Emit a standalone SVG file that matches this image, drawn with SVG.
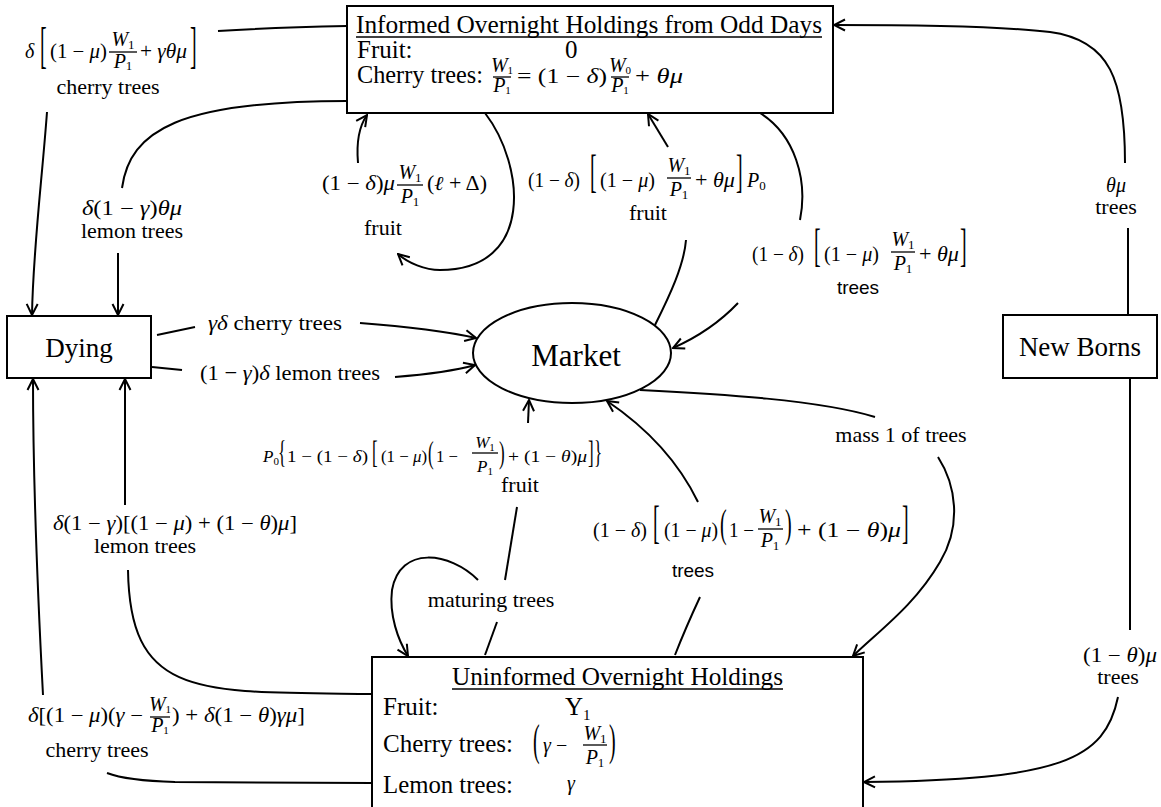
<svg xmlns="http://www.w3.org/2000/svg" width="1161" height="807" viewBox="0 0 1161 807">
<defs>
<style>
.n{fill:#fff;stroke:#000;stroke-width:2}
.c{fill:none;stroke:#000;stroke-width:2}
.a{marker-end:url(#arr)}
.fb{stroke:#000;stroke-width:1.3}
.ul{stroke:#000;stroke-width:1.5}
.t{font-family:"Liberation Serif","Times New Roman",serif;fill:#000}
.m{font-family:"Liberation Serif","Times New Roman",serif;font-size:20px;fill:#000}
.m17{font-family:"Liberation Serif","Times New Roman",serif;font-size:17px;fill:#000}
.i{font-style:italic}
.sub{font-size:13px;font-style:normal}
.sub11{font-size:11px;font-style:normal}
.lb{font-family:"Liberation Serif","Times New Roman",serif;font-size:22px;text-anchor:middle;fill:#000}
.sn{font-family:"Liberation Sans",Arial,sans-serif;font-size:19px;text-anchor:middle;fill:#000}
.mid{text-anchor:middle}
</style>
<marker id="arr" viewBox="0 0 14 14" refX="13" refY="7" markerWidth="14" markerHeight="14" markerUnits="userSpaceOnUse" orient="auto">
<path d="M2,1.5 L13,7 L2,12.5" fill="none" stroke="#000" stroke-width="2"/>
</marker>
</defs>
<rect width="1161" height="807" fill="#fff"/>

<g id="connectors">
<path class="c" d="M347,26 C300,27 250,29 218,31"/>
<path class="c a" d="M47,112 C42,180 33,250 32,315"/>
<path class="c" d="M347,101 C180,101 130,130 122,188"/>
<path class="c a" d="M118,253 L118,315"/>
<path class="c a" d="M485,113 C525,165 535,270 440,270 C425,270 408,263 398,254"/>
<path class="c a" d="M358,163 C356,140 360,125 367,115"/>
<path class="c" d="M655,325 C670,295 684,265 686,240"/>
<path class="c a" d="M668,147 L648,114"/>
<path class="c" d="M760,113 C795,135 808,180 800,220"/>
<path class="c a" d="M738,303 C720,322 700,336 673,348"/>
<path class="c" d="M157,335 L195,327"/>
<path class="c a" d="M360,323 C400,326 440,330 476,338"/>
<path class="c" d="M152,367 L182,370"/>
<path class="c a" d="M395,377 C420,375 450,372 475,365"/>
<path class="c" d="M485,655 L497,622"/>
<path class="c" d="M505,580 L517,507"/>
<path class="c a" d="M528,423 L529,400"/>
<path class="c a" d="M478,580 C450,552 400,545 392,590 C389,615 398,640 408,656"/>
<path class="c" d="M675,655 C684,632 693,612 700,597"/>
<path class="c a" d="M698,502 C680,465 650,430 607,401"/>
<path class="c" d="M640,390 C720,394 820,400 875,417"/>
<path class="c a" d="M938,457 C956,485 962,525 940,562 C915,605 880,630 853,656"/>
<path class="c" d="M1128,315 L1128,228"/>
<path class="c a" d="M1125,163 C1125,80 1110,40 1050,32 C1000,26 900,25 834,25"/>
<path class="c" d="M1130,378 L1130,630"/>
<path class="c a" d="M1118,697 C1105,760 1060,780 864,782"/>
<path class="c" d="M372,694 C200,692 130,700 128,570"/>
<path class="c a" d="M125,505 L125,379"/>
<path class="c" d="M372,783 L175,782 C140,781 120,778 107,773"/>
<path class="c a" d="M43,695 C38,600 33,480 33,379"/>
</g>

<g id="node-informed">
<rect class="n" x="347" y="6" width="486" height="107"/>
<text class="t" x="356" y="33" font-size="25" textLength="466" lengthAdjust="spacingAndGlyphs">Informed Overnight Holdings from Odd Days</text>
<line class="ul" x1="356" y1="37" x2="822" y2="37"/>
<text class="t" x="357" y="58" font-size="25">Fruit:</text>
<text class="t" x="565" y="58" font-size="25">0</text>
<text class="t" x="357" y="83" font-size="25" textLength="126" lengthAdjust="spacingAndGlyphs">Cherry trees:</text>
<text class="m i mid" x="502" y="72" font-size="13">W<tspan class="sub11" dy="2">1</tspan></text>
<line class="fb" x1="493" y1="77" x2="511" y2="77"/>
<text class="m i mid" x="502" y="92" font-size="13">P<tspan class="sub11" dy="2">1</tspan></text>
<text class="m" x="517" y="83" textLength="90" lengthAdjust="spacingAndGlyphs">= (1 − <tspan class="i">δ</tspan>)</text>
<text class="m i mid" x="620" y="72" font-size="13">W<tspan class="sub11" dy="2">0</tspan></text>
<line class="fb" x1="611" y1="77" x2="629" y2="77"/>
<text class="m i mid" x="620" y="92" font-size="13">P<tspan class="sub11" dy="2">1</tspan></text>
<text class="m" x="635" y="83" textLength="48" lengthAdjust="spacingAndGlyphs">+ <tspan class="i">θμ</tspan></text>
</g>

<g id="node-dying">
<rect class="n" x="7" y="316" width="144" height="62"/>
<text class="t mid" x="79" y="357" font-size="27">Dying</text>
</g>

<g id="node-market">
<ellipse class="n" cx="572" cy="353" rx="99" ry="50"/>
<text class="t mid" x="576" y="366" font-size="31">Market</text>
</g>

<g id="node-newborns">
<rect class="n" x="1003" y="315" width="154" height="63"/>
<text class="t mid" x="1080" y="356" font-size="27">New Borns</text>
</g>

<g id="node-uninformed">
<rect class="n" x="372" y="657" width="491" height="165"/>
<text class="t" x="452" y="685" font-size="25" textLength="331" lengthAdjust="spacingAndGlyphs">Uninformed Overnight Holdings</text>
<line class="ul" x1="452" y1="689" x2="783" y2="689"/>
<text class="t" x="383" y="715" font-size="25">Fruit:</text>
<text class="t" x="565" y="715" font-size="25">Y<tspan font-size="15" dy="5">1</tspan></text>
<text class="t" x="383" y="752" font-size="25" textLength="130" lengthAdjust="spacingAndGlyphs">Cherry trees:</text>
<text class="m" transform="matrix(1 0 0 2.2 533 755)">(</text>
<text class="m i" x="543" y="752">γ</text>
<text class="m" x="556" y="752">−</text>
<text class="m i mid" x="595" y="740">W<tspan class="sub" dy="3">1</tspan></text>
<line class="fb" x1="583" y1="745" x2="607" y2="745"/>
<text class="m i mid" x="595" y="764">P<tspan class="sub" dy="3">1</tspan></text>
<text class="m" transform="matrix(1 0 0 2.2 609 755)">)</text>
<text class="t" x="383" y="793" font-size="25" textLength="130" lengthAdjust="spacingAndGlyphs">Lemon trees:</text>
<text class="m i" x="567" y="790" font-size="22">γ</text>
</g>

<g id="edge-labels">
<g id="lbl-informed-dying-cherry">
<text class="m i" x="25" y="58">δ</text>
<text class="m" transform="matrix(1 0 0 2.5 40 62)">[</text>
<text class="m" x="50" y="58" textLength="57" lengthAdjust="spacingAndGlyphs">(1 − <tspan class="i">μ</tspan>)</text>
<text class="m i mid" x="123" y="46">W<tspan class="sub" dy="3">1</tspan></text>
<line class="fb" x1="109" y1="52" x2="137" y2="52"/>
<text class="m i mid" x="123" y="68">P<tspan class="sub" dy="2">1</tspan></text>
<text class="m" x="140" y="58" textLength="47" lengthAdjust="spacingAndGlyphs">+ <tspan class="i">γθμ</tspan></text>
<text class="m" transform="matrix(1 0 0 2.5 190 62)">]</text>
<text class="lb" x="108" y="94">cherry trees</text>
</g>
<g id="lbl-informed-dying-lemon">
<text class="m" x="82" y="215" textLength="100" lengthAdjust="spacingAndGlyphs"><tspan class="i">δ</tspan>(1 − <tspan class="i">γ</tspan>)<tspan class="i">θμ</tspan></text>
<text class="lb" x="132" y="238">lemon trees</text>
</g>
<g id="lbl-informed-loop-fruit">
<text class="m" x="322" y="190" textLength="73" lengthAdjust="spacingAndGlyphs">(1 − <tspan class="i">δ</tspan>)<tspan class="i">μ</tspan></text>
<text class="m i mid" x="410" y="179">W<tspan class="sub" dy="3">1</tspan></text>
<line class="fb" x1="397" y1="185" x2="423" y2="185"/>
<text class="m i mid" x="410" y="203">P<tspan class="sub" dy="3">1</tspan></text>
<text class="m" x="427" y="190" textLength="60" lengthAdjust="spacingAndGlyphs">(<tspan class="i">ℓ</tspan> + Δ)</text>
<text class="lb" x="383" y="235">fruit</text>
</g>
<g id="lbl-market-informed-fruit">
<text class="m" x="528" y="187" textLength="52" lengthAdjust="spacingAndGlyphs">(1 − <tspan class="i">δ</tspan>)</text>
<text class="m" transform="matrix(1 0 0 2.33 590 187)">[</text>
<text class="m" x="600" y="187" textLength="55" lengthAdjust="spacingAndGlyphs">(1 − <tspan class="i">μ</tspan>)</text>
<text class="m i mid" x="679" y="172">W<tspan class="sub" dy="3">1</tspan></text>
<line class="fb" x1="667" y1="178" x2="691" y2="178"/>
<text class="m i mid" x="679" y="196">P<tspan class="sub" dy="3">1</tspan></text>
<text class="m" x="695" y="187" textLength="40" lengthAdjust="spacingAndGlyphs">+ <tspan class="i">θμ</tspan></text>
<text class="m" transform="matrix(1 0 0 2.33 736 187)">]</text>
<text class="m i" x="747" y="187">P<tspan class="sub" dy="3">0</tspan></text>
<text class="lb" x="648" y="220">fruit</text>
</g>
<g id="lbl-informed-market-trees">
<text class="m" x="752" y="261" textLength="52" lengthAdjust="spacingAndGlyphs">(1 − <tspan class="i">δ</tspan>)</text>
<text class="m" transform="matrix(1 0 0 2.33 814 261)">[</text>
<text class="m" x="824" y="261" textLength="55" lengthAdjust="spacingAndGlyphs">(1 − <tspan class="i">μ</tspan>)</text>
<text class="m i mid" x="903" y="246">W<tspan class="sub" dy="3">1</tspan></text>
<line class="fb" x1="891" y1="252" x2="915" y2="252"/>
<text class="m i mid" x="903" y="270">P<tspan class="sub" dy="3">1</tspan></text>
<text class="m" x="919" y="261" textLength="40" lengthAdjust="spacingAndGlyphs">+ <tspan class="i">θμ</tspan></text>
<text class="m" transform="matrix(1 0 0 2.33 960 261)">]</text>
<text class="sn" x="858" y="294">trees</text>
</g>
<g id="lbl-dying-market-cherry">
<text class="t" x="208" y="330" font-size="22" textLength="134" lengthAdjust="spacingAndGlyphs"><tspan class="i">γδ</tspan> cherry trees</text>
</g>
<g id="lbl-dying-market-lemon">
<text class="t" x="200" y="380" font-size="22" textLength="180" lengthAdjust="spacingAndGlyphs">(1 − <tspan class="i">γ</tspan>)<tspan class="i">δ</tspan> lemon trees</text>
</g>
<g id="lbl-uninformed-market-fruit">
<text class="m17 i" x="263" y="462">P<tspan class="sub11" dy="3">0</tspan></text>
<text class="m17" transform="matrix(1 0 0 1.9 278 463)">{</text>
<text class="m17" x="287" y="462" textLength="81" lengthAdjust="spacingAndGlyphs">1 − (1 − <tspan class="i">δ</tspan>)</text>
<text class="m17" transform="matrix(1 0 0 1.9 372 463)">[</text>
<text class="m17" x="381" y="462" textLength="46" lengthAdjust="spacingAndGlyphs">(1 − <tspan class="i">μ</tspan>)</text>
<text class="m17" transform="matrix(1 0 0 1.9 428 463)">(</text>
<text class="m17" x="436" y="462" textLength="22" lengthAdjust="spacingAndGlyphs">1 −</text>
<text class="m17 i mid" x="485" y="448">W<tspan class="sub11" dy="3">1</tspan></text>
<line class="fb" x1="472" y1="453" x2="498" y2="453"/>
<text class="m17 i mid" x="485" y="472">P<tspan class="sub11" dy="3">1</tspan></text>
<text class="m17" transform="matrix(1 0 0 1.9 499 463)">)</text>
<text class="m17" x="508" y="462" textLength="79" lengthAdjust="spacingAndGlyphs">+ (1 − <tspan class="i">θ</tspan>)<tspan class="i">μ</tspan></text>
<text class="m17" transform="matrix(1 0 0 1.9 588 463)">]</text>
<text class="m17" transform="matrix(1 0 0 1.9 594 463)">}</text>
<text class="lb" x="520" y="492">fruit</text>
</g>
<g id="lbl-uninformed-dying-lemon">
<text class="m" x="53" y="530" textLength="244" lengthAdjust="spacingAndGlyphs"><tspan class="i">δ</tspan>(1 − <tspan class="i">γ</tspan>)[(1 − <tspan class="i">μ</tspan>) + (1 − <tspan class="i">θ</tspan>)<tspan class="i">μ</tspan>]</text>
<text class="lb" x="145" y="553">lemon trees</text>
</g>
<g id="lbl-uninformed-dying-cherry">
<text class="m" x="28" y="722" textLength="115" lengthAdjust="spacingAndGlyphs"><tspan class="i">δ</tspan>[(1 − <tspan class="i">μ</tspan>)(<tspan class="i">γ</tspan> −</text>
<text class="m i mid" x="160" y="711" font-size="13">W<tspan class="sub11" dy="2">1</tspan></text>
<line class="fb" x1="150" y1="717" x2="170" y2="717"/>
<text class="m i mid" x="160" y="732" font-size="13">P<tspan class="sub11" dy="2">1</tspan></text>
<text class="m" x="172" y="722" textLength="133" lengthAdjust="spacingAndGlyphs">) + <tspan class="i">δ</tspan>(1 − <tspan class="i">θ</tspan>)<tspan class="i">γμ</tspan>]</text>
<text class="lb" x="97" y="757">cherry trees</text>
</g>
<g id="lbl-uninformed-market-trees">
<text class="m" x="593" y="537" textLength="54" lengthAdjust="spacingAndGlyphs">(1 − <tspan class="i">δ</tspan>)</text>
<text class="m" transform="matrix(1 0 0 2.33 653 538)">[</text>
<text class="m" x="664" y="537" textLength="54" lengthAdjust="spacingAndGlyphs">(1 − <tspan class="i">μ</tspan>)</text>
<text class="m" transform="matrix(1 0 0 2.0 720 537)">(</text>
<text class="m" x="729" y="537" textLength="25" lengthAdjust="spacingAndGlyphs">1 −</text>
<text class="m i mid" x="770" y="523">W<tspan class="sub" dy="3">1</tspan></text>
<line class="fb" x1="758" y1="529" x2="783" y2="529"/>
<text class="m i mid" x="770" y="547">P<tspan class="sub" dy="3">1</tspan></text>
<text class="m" transform="matrix(1 0 0 2.0 785 537)">)</text>
<text class="m" x="797" y="537" textLength="104" lengthAdjust="spacingAndGlyphs">+ (1 − <tspan class="i">θ</tspan>)<tspan class="i">μ</tspan></text>
<text class="m" transform="matrix(1 0 0 2.33 902 538)">]</text>
<text class="sn" x="693" y="577">trees</text>
</g>
<g id="lbl-market-uninformed">
<text class="lb" x="901" y="442">mass 1 of trees</text>
</g>
<g id="lbl-newborns-informed">
<text class="m i mid" x="1116" y="192">θμ</text>
<text class="lb" x="1116" y="214">trees</text>
</g>
<g id="lbl-newborns-uninformed">
<text class="m" x="1083" y="662" textLength="74" lengthAdjust="spacingAndGlyphs">(1 − <tspan class="i">θ</tspan>)<tspan class="i">μ</tspan></text>
<text class="lb" x="1118" y="684">trees</text>
</g>
<g id="lbl-maturing">
<text class="lb" x="491" y="607">maturing trees</text>
</g>
</g>
</svg>
